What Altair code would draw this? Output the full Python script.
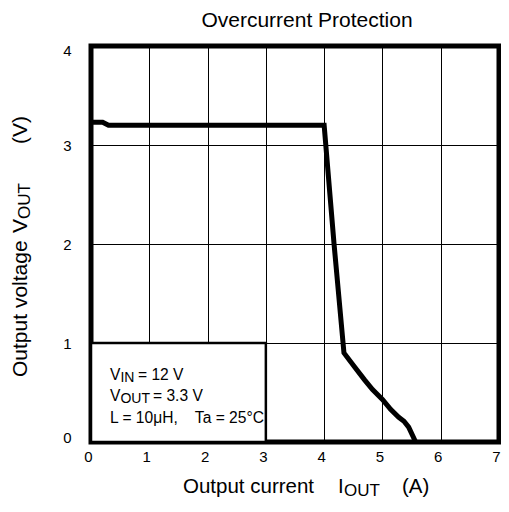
import altair as alt
import pandas as pd

# ---- data ----
current_a = [0.0, 0.2, 0.3, 4.0, 4.17, 4.34, 4.52, 4.69, 4.83, 5.0, 5.14, 5.28, 5.37, 5.45, 5.57]
voltage_v = [3.23, 3.23, 3.2, 3.2, 2.0, 0.9, 0.76, 0.63, 0.53, 0.43, 0.33, 0.25, 0.21, 0.15, 0.0]

x_ticks = [0, 1, 2, 3, 4, 5, 6, 7]
y_ticks = [0, 1, 2, 3, 4]

box_x = [0.0]
box_x2 = [3.0]
box_y = [0.0]
box_y2 = [1.0]

FONT = "Liberation Sans"
W, H = 408, 396

curve = pd.DataFrame({"I": current_a, "V": voltage_v})
box = pd.DataFrame({"x": box_x, "x2": box_x2, "y": box_y, "y2": box_y2})

xs = alt.Scale(domain=[0, 7], nice=False, zero=False)
ys = alt.Scale(domain=[0, 4], nice=False, zero=False)

xaxis = alt.Axis(values=x_ticks, title=None, grid=True, gridColor="black", gridWidth=1,
                 gridOpacity=1, domain=False, ticks=False, tickSize=0, labelFontSize=15,
                 labelFont=FONT, labelColor="black", labelPadding=7, labelOffset=-3,
                 labelFlush=False, format="d")
yaxis = alt.Axis(values=y_ticks, title=None, grid=True, gridColor="black", gridWidth=1,
                 gridOpacity=1, domain=False, ticks=False, tickSize=0, labelFontSize=15,
                 labelFont=FONT, labelColor="black", labelPadding=20, labelFlush=True,
                 labelFlushOffset=3, format="d")

rect = alt.Chart(box).mark_rect(fill="white", stroke="black", strokeWidth=2.5).encode(
    x=alt.X("x:Q", scale=xs, axis=xaxis),
    x2="x2:Q",
    y=alt.Y("y:Q", scale=ys, axis=yaxis),
    y2="y2:Q",
)

line = alt.Chart(curve).mark_line(color="black", strokeWidth=5, strokeJoin="miter").encode(
    x=alt.X("I:Q", scale=xs),
    y=alt.Y("V:Q", scale=ys),
    order=alt.Order("I:Q"),
)


def label(text, x, y, size, angle=0, align="left"):
    props = dict(text=text, font=FONT, fontSize=size, color="black", align=align,
                 baseline="alphabetic")
    if angle:
        props["angle"] = angle
    return alt.Chart(alt.Data(values=[{}])).mark_text(**props).encode(
        x=alt.value(x), y=alt.value(y))


texts = [
    # chart title
    label("Overcurrent Protection", 216, -19, 21, align="center"),
    # x axis title
    label("Output current", 92, 447, 20.5),
    label("I", 247, 447, 20.5),
    label("OUT", 253, 449.5, 17),
    label("(A)", 311, 447, 20.5),
    # y axis title (rotated, reads bottom to top)
    label("Output voltage", -64, 331, 21, 270),
    label("V", -64, 187, 21, 270),
    label("OUT", -61, 173, 17, 270),
    label("(V)", -64, 98, 21, 270),
    # conditions box
    label("V", 19, 333.5, 15.6),
    label("IN", 29.4, 335.5, 14),
    label("= 12 V", 47, 333.5, 15.6),
    label("V", 19, 355, 15.6),
    label("OUT", 29.4, 357, 14),
    label("= 3.3 V", 62, 355, 15.6),
    label("L = 10\u03bcH,\u00a0\u00a0\u00a0 Ta = 25\u00b0C", 19, 377, 15.6),
]

chart = alt.layer(rect, line, *texts).properties(
    width=W, height=H,
    autosize=alt.AutoSizeParams(type="none"),
    padding={"left": 83, "top": 38, "right": 2, "bottom": 58},
).configure_view(stroke="black", strokeWidth=5)

chart.save("out.html", embed_options={"renderer": "svg", "actions": False})
